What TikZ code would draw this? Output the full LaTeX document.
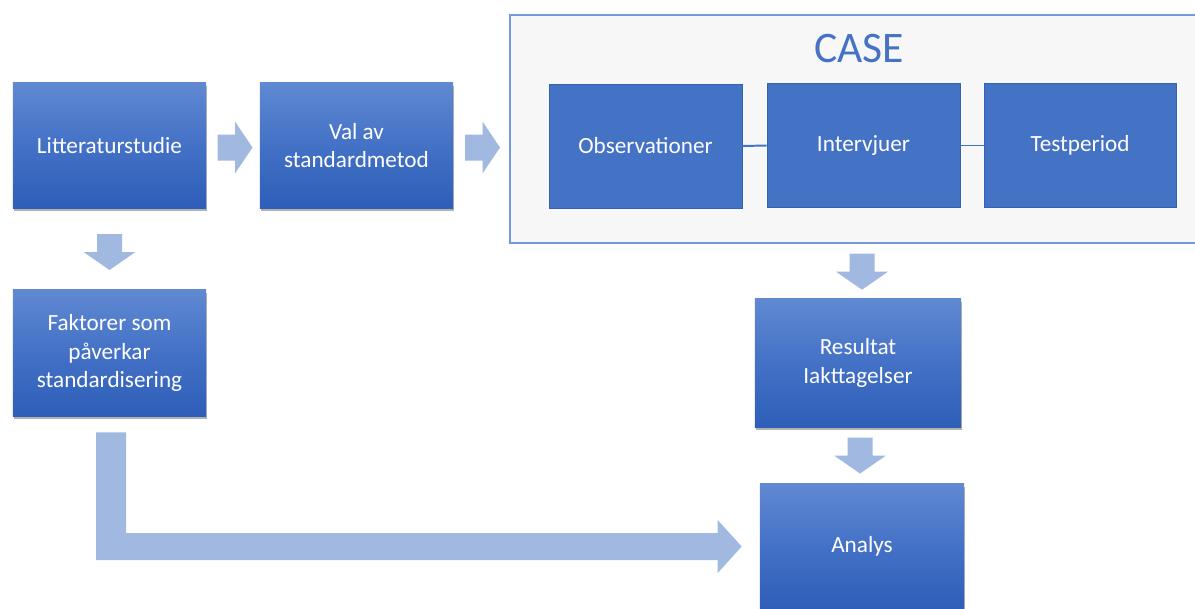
\documentclass[tikz,border=0pt]{standalone}
\usepackage{fontspec}
\setmainfont{Carlito}
\usetikzlibrary{calc,shadows}

\definecolor{boxtop}{RGB}{96,137,210}
\definecolor{boxmid}{RGB}{67,113,198}
\definecolor{boxbot}{RGB}{46,94,184}
\definecolor{flatblue}{RGB}{68,114,196}
\definecolor{flatline}{RGB}{55,98,178}
\definecolor{arrowblue}{RGB}{161,184,225}
\definecolor{casegray}{RGB}{247,247,247}
\definecolor{caseframe}{RGB}{118,153,218}

\tikzset{
	gradbox/.style = {rectangle, top color = boxtop, bottom color = boxbot, middle color = boxmid,
		text = white, align = center, font = \fontsize{16.5}{20.5}\selectfont,
		drop shadow = {shadow xshift = 1pt, shadow yshift = -2pt, opacity = 0.3, fill = black}},
	flatbox/.style = {rectangle, draw = flatline, fill = flatblue, text = white, align = center,
		font = \fontsize{16.5}{20.5}\selectfont, minimum width = 4.825cm, minimum height = 3.1cm},
	caseline/.style = {flatblue, line width = 1.4pt},
	pics/rarrow/.style = {code = {
		\fill[arrowblue] (-17.5, -13) -- (0, -13) -- (0, -26) -- (17.5, 0) -- (0, 26) -- (0, 13) -- (-17.5, 13) -- cycle;
	}},
	pics/darrow/.style = {code = {
		\fill[arrowblue] (-12.5, -18) -- (12.5, -18) -- (12.5, 0) -- (26, 0) -- (0, 18) -- (-26, 0) -- (-12.5, 0) -- cycle;
	}}
}

\begin{document}
\begin{tikzpicture}[x = 0.025cm, y = -0.025cm]
		\useasboundingbox (0, 0) rectangle (1195, 608);
		
		% case frame
		\draw[fill = casegray, draw = caseframe, line width = 1pt] (510, 15) rectangle (1215, 243);
		\node[text = flatblue, font = \fontsize{31}{38}\selectfont] (case) at (859, 48) {CASE};
		
		\node[gradbox, minimum width = 4.825cm, minimum height = 3.125cm] (lit) at (109.5, 145.5) {Litteraturstudie};
		\node[gradbox, minimum width = 4.825cm, minimum height = 3.125cm] (val) at (356.5, 145.5) {Val av\\standardmetod};
		\node[gradbox, minimum width = 4.825cm, minimum height = 3.15cm] (fak) at (109.5, 353) {Faktorer som\\påverkar\\standardisering};
		\node[gradbox, minimum width = 5.15cm, minimum height = 3.2cm] (res) at (858, 363) {Resultat\\Iakttagelser};
		\node[gradbox, minimum width = 5.1cm, minimum height = 3.125cm] (ana) at (862, 546.5) {Analys};
		
		\node[flatbox] (obs) at (645.5, 146) {Observationer};
		\node[flatbox] (int) at (863.5, 145.5) {Intervjuer};
		\node[flatbox, minimum width = 4.8cm] (test) at (1080, 145.5) {Testperiod};
		
		\draw[caseline] (obs.east) -- (int.west);
		\draw[caseline] (int.east) -- (test.west);
		
		\pic at ($(lit.east)!0.5!(val.west) + (2, 2)$) {rarrow};
		\pic at (482.5, 147.5) {rarrow};
		\pic at ($(lit.south)!0.5!(fak.north) + (0, 3)$) {darrow};
		\pic at ($(res.north) + (4, -27)$) {darrow};
		\pic at ($(res.south)!0.5!(ana.north)$) {darrow};
		
		% long arrow to analys
		\coordinate (lstart) at ($(fak.south) + (1.5, 16)$);
		\coordinate (ltip) at ($(ana.west) + (-18, 0)$);
		\fill[arrowblue] ($(lstart) + (-15, 0)$) -- ($(lstart) + (15, 0)$) -- ($(lstart |- ltip) + (15, -13.5)$)
			-- ($(ltip) + (-24, -13.5)$) -- ($(ltip) + (-24, -26.5)$) -- (ltip) -- ($(ltip) + (-24, 26.5)$)
			-- ($(ltip) + (-24, 13.5)$) -- ($(lstart |- ltip) + (-15, 13.5)$) -- cycle;
	\end{tikzpicture}
\end{document}
